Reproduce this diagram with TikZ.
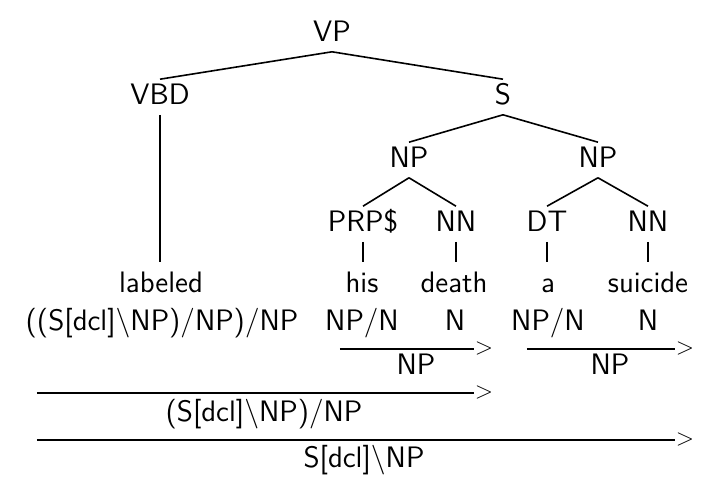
\documentclass[tikz,border=0pt]{standalone}
\usepackage{fontspec}
\begin{document}
\begin{tikzpicture}[x=0.5pt,y=-0.5pt,line width=0.8pt,
  font=\sffamily\fontsize{14.8}{17}\selectfont,
  tag/.style={anchor=base, inner xsep=0pt, inner ysep=2.5pt, text height=10pt, text depth=2pt},
  word/.style={anchor=base, inner xsep=0pt, inner ysep=4pt, text height=11pt, text depth=2pt},
  cat/.style={anchor=base, inner sep=0pt},
  tip/.style={anchor=west, inner sep=0pt, font=\sffamily\fontsize{12}{14}\selectfont}]
\useasboundingbox (0,0) rectangle (720,492);
% tree
\node[tag] (vp) at (332,42){VP};
\node[tag] (vbd) at (160,105){VBD};
\node[tag] (s) at (503,105){S};
\draw[](vp.south) -- (vbd.north);
\draw[](vp.south) -- (s.north);
\node[tag] (np1) at (409,168){NP};
\node[tag] (np2) at (598,168){NP};
\draw[](s.south) -- (np1.north);
\draw[](s.south) -- (np2.north);
\node[tag] (prp) at (363,232){PRP\$};
\node[tag] (nn1) at (456,232){NN};
\draw[](np1.south) -- (prp.north);
\draw[](np1.south) -- (nn1.north);
\node[tag] (dt) at (547,232){DT};
\node[tag] (nn2) at (648,232){NN};
\draw[](np2.south) -- (dt.north);
\draw[](np2.south) -- (nn2.north);
% words
\node[word] (w1) at (161,293){labeled};
\node[word] (w2) at (362,293){his};
\node[word] (w3) at (454,293){death};
\node[word] (w4) at (548,293){a};
\node[word] (w5) at (648,293){suicide};
\draw[](vbd.south) -- (vbd.south |- w1.north);
\draw[](prp.south) -- (prp.south |- w2.north);
\draw[](nn1.south) -- (nn1.south |- w3.north);
\draw[](dt.south) -- (dt.south |- w4.north);
\draw[](nn2.south) -- (nn2.south |- w5.north);
% categories
\node[cat] (c1) at (162,331){((S[dcl]\textbackslash NP)/NP)/NP};
\node[cat] (c2) at (362,331){NP/N};
\node[cat] (c3) at (455,331){N};
\node[cat] (c4) at (548,331){NP/N};
\node[cat] (c5) at (648,331){N};
% combinations
\coordinate (r1a) at (340,349);
\coordinate (r1b) at (474,349);
\draw[](r1a) -- (r1b);
\node[tip] (r1t) at (r1b){>};
\node[cat] (r1c) at (416,375){NP};
\coordinate (r2a) at (527,349);
\coordinate (r2b) at (675,349);
\draw[](r2a) -- (r2b);
\node[tip] (r2t) at (r2b){>};
\node[cat] (r2c) at (610,375){NP};
\coordinate (r3a) at (37,393);
\coordinate (r3b) at (474,393);
\draw[](r3a) -- (r3b);
\node[tip] (r3t) at (r3b){>};
\node[cat] (r3c) at (264,422){(S[dcl]\textbackslash NP)/NP};
\coordinate (r4a) at (37,440);
\coordinate (r4b) at (675,440);
\draw[](r4a) -- (r4b);
\node[tip] (r4t) at (r4b){>};
\node[cat] (r4c) at (364,468){S[dcl]\textbackslash NP};
\end{tikzpicture}
\end{document}
